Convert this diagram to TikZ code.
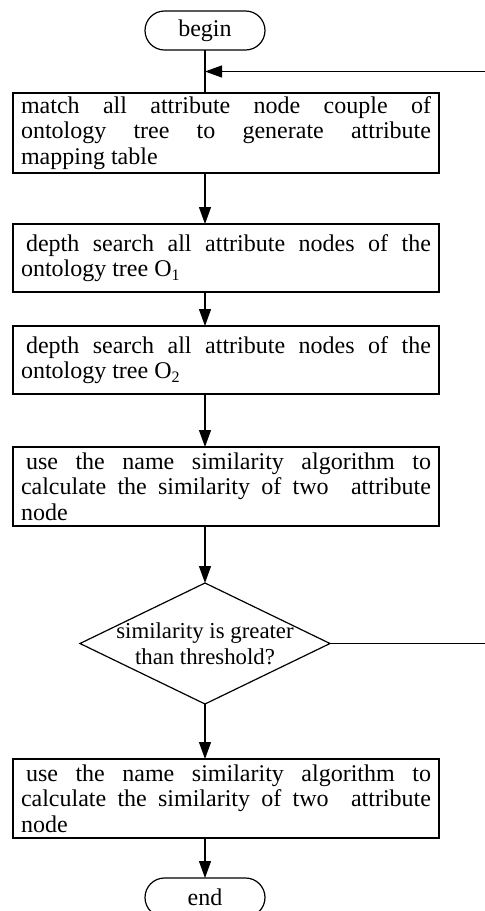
\documentclass[tikz,border=0pt]{standalone}
\usepackage{fontspec}
\setmainfont{Liberation Serif}
\usepackage{tikz}
\usetikzlibrary{positioning,arrows.meta,shapes.geometric,calc}
\hyphenpenalty=10000
\hbadness=10000
\tikzset{
  >={Triangle[length=8.5pt,width=6pt]},
  every node/.style={font=\fontsize{12}{12.75}\selectfont,outer sep=0pt},
  term/.style={draw,rectangle,rounded corners=9.75pt,minimum width=60pt,minimum height=19.5pt,inner sep=0pt},
  proc/.style={draw,rectangle,text width=205pt,align=justify,inner xsep=4pt,inner ysep=1pt},
  decision/.style={draw,diamond,aspect=2.066,inner xsep=-9pt,inner ysep=0pt,minimum width=125pt,minimum height=60.5pt,align=center,font=\fontsize{11.4}{13}\selectfont},
}

\begin{document}
\begin{tikzpicture}[
  line width=0.6pt,
  flow/.style={->}
]
\useasboundingbox (0,0) rectangle (242.5pt,-455.5pt);

\node[term] (start) at (102.5pt,-15.25pt) {begin};
\node[proc,minimum height=40pt,below=21.5pt of start,xshift=10.5pt] (b1)
  {match all attribute node couple of\linebreak ontology tree to generate attribute\linebreak mapping table};
\node[proc,minimum height=34pt,below=25.5pt of b1] (b2)
  {\hspace*{2.5pt}depth search all attribute nodes of the\linebreak ontology tree O\textsubscript{1}};
\node[proc,minimum height=34pt,below=17pt of b2] (b3)
  {\hspace*{2.5pt}depth search all attribute nodes of the\linebreak ontology tree O\textsubscript{2}};
\node[proc,minimum height=39.5pt,below=26.5pt of b3] (b4)
  {\hspace*{2.5pt}use the name similarity algorithm to\linebreak calculate the similarity of two~ attribute\linebreak node};
\node[decision,below=28.5pt of b4,xshift=-10.5pt] (dec)
  {similarity is greater\\than threshold?};
\node[proc,minimum height=39.5pt,below=27.5pt of dec,xshift=10.5pt] (b5)
  {\hspace*{2.5pt}use the name similarity algorithm to\linebreak calculate the similarity of two~ attribute\linebreak node};
\node[term,below=20pt of b5,xshift=-10.5pt] (end) {end};

\coordinate (back) at ($(start.south)!0.5!(start |- b1.north)$);
\coordinate (loop) at (246pt,0);

\draw (start) -- (start |- b1.north);
\path[flow]
(b1.south -| start) edge (b2.north -| start)
(b2.south -| start) edge (b3.north -| start)
(b3.south -| start) edge (b4.north -| start)
(b4.south -| start) edge (dec)
(dec) edge (b5.north -| start)
(b5.south -| start) edge (end);

\draw[flow] (dec.east) -- (dec.east -| loop) |- (back);

\end{tikzpicture}
\end{document}
